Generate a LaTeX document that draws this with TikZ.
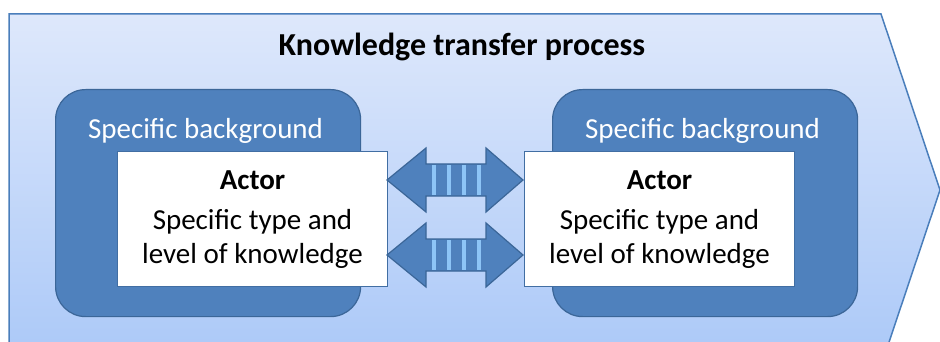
\documentclass[tikz,border=0pt]{standalone}
\usepackage{fontspec}
\setmainfont{Carlito}
\definecolor{outerline}{HTML}{4A7EBB}
\definecolor{outertop}{HTML}{DEE8FB}
\definecolor{outerbot}{HTML}{AAC8F8}
\definecolor{boxfill}{HTML}{4F81BD}
\definecolor{boxline}{HTML}{3B6698}
\definecolor{stripe}{HTML}{8DC4F6}
\tikzset{
  bgbox/.style={draw=boxline, line width=1.2pt, fill=boxfill, rounded corners=30pt,
    minimum width=305pt, minimum height=227pt, anchor=north west, inner sep=0pt},
  bglabel/.style={text=white, font=\fontsize{29}{34}\selectfont, anchor=base, inner sep=0pt},
  actorbox/.style={draw=boxline!70!boxfill, line width=1pt, fill=white, anchor=north west,
    minimum width=270pt, minimum height=135pt, inner sep=0pt},
  actortext/.style={font=\fontsize{29}{34}\selectfont, anchor=base, inner sep=0pt},
  dblarrow/.style={fill=boxfill, draw=boxline, line width=1.2pt, line join=miter},
  stripebar/.style={fill=stripe, draw=none},
}
\begin{document}
\begin{tikzpicture}[x=1pt,y=-1pt]
\useasboundingbox (0,0) rectangle (940,342);
\clip (0,0) rectangle (940,342);
% outer chevron
\path[top color=outertop, bottom color=outerbot, draw=outerline, line width=1.5pt]
  (9,14) -- (881,14) -- (940,190) -- (881,366) -- (9,366) -- cycle;
\node[font=\bfseries\fontsize{32}{38}\selectfont, anchor=base, inner sep=0pt] (title) at (462,56) {Knowledge transfer process};
% background boxes
\node[bgbox] (bgL) at (55,89) {};
\node[bgbox] (bgR) at (552,89) {};
\node[bglabel] (bgLlab) at (205.5,139) {Specific background};
\node[bglabel] (bgRlab) at (702.5,139) {Specific background};
% actor boxes
\node[actorbox] (actL) at (117,151) {};
\node[actorbox] (actR) at (524,151) {};
\foreach \bx/\nm in {252.5/L, 659.5/R}{
  \node[actortext, font=\bfseries\fontsize{29}{34}\selectfont] (actor\nm) at (\bx,189.5) {Actor};
  \node[actortext] (type\nm) at (\bx,229) {Specific type and};
  \node[actortext] (level\nm) at (\bx,263.5) {level of knowledge};
}
% double arrows
\foreach \cy/\nm in {180/up, 255/lo}{
  \draw[dblarrow] (387,\cy) -- (426,\cy-32) -- (426,\cy-16) -- (486,\cy-16) -- (486,\cy-32)
    -- (523,\cy) -- (486,\cy+32) -- (486,\cy+16) -- (426,\cy+16) -- (426,\cy+32) -- cycle;
  \foreach \sx in {432,447,462,477}{
    \fill[stripebar] (\sx,\cy-15) rectangle (\sx+3.8,\cy+15);
  }
}
\end{tikzpicture}
\end{document}
